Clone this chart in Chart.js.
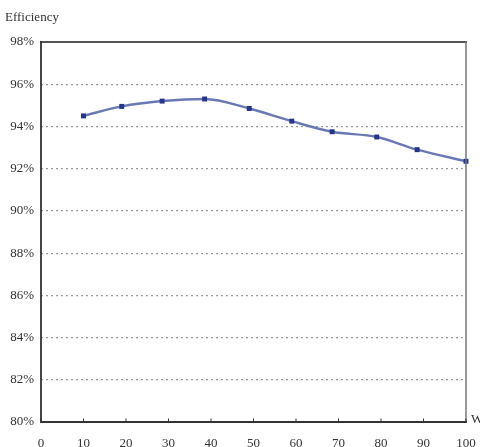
<!DOCTYPE html>
<html>
<head>
<meta charset="utf-8">
<script src="https://cdn.jsdelivr.net/npm/chart.js@4"></script>
<style>
  html, body { margin: 0; padding: 0; background: #fff; }
  #wrap { width: 480px; height: 447px; }
</style>
</head>
<body>
<div id="wrap"><canvas id="effChart"></canvas></div>
<script>
// load (W) and efficiency (%)
const loadW = [10, 19, 28.5, 38.5, 49, 59, 68.5, 79, 88.5, 100];
const efficiency = [94.5, 94.95, 95.2, 95.3, 94.85, 94.25, 93.75, 93.5, 92.9, 92.35];
const xTicks = [0, 10, 20, 30, 40, 50, 60, 70, 80, 90, 100];
const yTicks = [80, 82, 84, 86, 88, 90, 92, 94, 96, 98];

const serif = '"Liberation Serif", "DejaVu Serif", serif';

// frame round the plot + the two loose labels
const framePlugin = {
  id: 'frame',
  afterDraw(chart) {
    const { ctx, chartArea: a } = chart;
    ctx.save();
    ctx.lineCap = 'square';
    // top (dark, a bit thick)
    ctx.strokeStyle = '#555'; ctx.lineWidth = 2;
    ctx.beginPath(); ctx.moveTo(a.left, a.top); ctx.lineTo(a.right, a.top); ctx.stroke();
    // right
    ctx.strokeStyle = '#777'; ctx.lineWidth = 1.5;
    ctx.beginPath(); ctx.moveTo(a.right, a.top); ctx.lineTo(a.right, a.bottom); ctx.stroke();
    // left + bottom axes
    ctx.strokeStyle = '#333'; ctx.lineWidth = 1.8;
    ctx.beginPath(); ctx.moveTo(a.left, a.top); ctx.lineTo(a.left, a.bottom); ctx.lineTo(a.right, a.bottom); ctx.stroke();
    // little inner ticks on x axis
    const xs = chart.scales.x;
    ctx.lineWidth = 1;
    xTicks.forEach(v => {
      const px = xs.getPixelForValue(v);
      ctx.beginPath(); ctx.moveTo(px, a.bottom); ctx.lineTo(px, a.bottom - 3); ctx.stroke();
    });
    ctx.fillStyle = '#333';
    ctx.font = '13px ' + serif;
    ctx.textBaseline = 'middle';
    ctx.textAlign = 'left';
    ctx.fillText('Efficiency', 5, 18);
    ctx.fillText('W', a.right + 5, a.bottom - 2);
    ctx.restore();
  }
};

new Chart(document.getElementById('effChart'), {
  type: 'line',
  data: {
    datasets: [{
      data: loadW.map((x, i) => ({ x: x, y: efficiency[i] })),
      borderColor: '#6a78b4',
      borderWidth: 2.5,
      backgroundColor: '#26358a',
      pointStyle: 'rect',
      pointRadius: 3.5,
      pointBorderWidth: 0,
      tension: 0.4,
      cubicInterpolationMode: 'monotone',
      fill: false,
      clip: false
    }]
  },
  options: {
    responsive: true,
    maintainAspectRatio: false,
    animation: false,
    layout: { padding: { top: 42, right: 14, left: 0, bottom: 0 } },
    plugins: { legend: { display: false }, tooltip: { enabled: false } },
    scales: {
      x: {
        type: 'linear',
        min: 0, max: 100,
        afterBuildTicks: s => { s.ticks = xTicks.map(v => ({ value: v })); },
        afterFit: s => { s.height = 25; s.paddingLeft = 0; s.paddingRight = 0; },
        grid: { display: false },
        border: { display: false },
        ticks: { color: '#333', font: { family: serif, size: 13 }, padding: 6, maxRotation: 0 }
      },
      y: {
        min: 80, max: 98,
        afterBuildTicks: s => { s.ticks = yTicks.map(v => ({ value: v })); },
        afterFit: s => { s.width = 41; },
        grid: {
          drawTicks: false,
          lineWidth: 1.2,
          color: c => (c.tick && (c.tick.value === 80 || c.tick.value === 98)) ? 'rgba(0,0,0,0)' : '#9a9a9a'
        },
        border: { display: false, dash: [2, 3] },
        ticks: {
          color: '#333', font: { family: serif, size: 13 }, padding: 7,
          callback: v => v + '%'
        }
      }
    }
  },
  plugins: [framePlugin]
});
</script>
</body>
</html>
